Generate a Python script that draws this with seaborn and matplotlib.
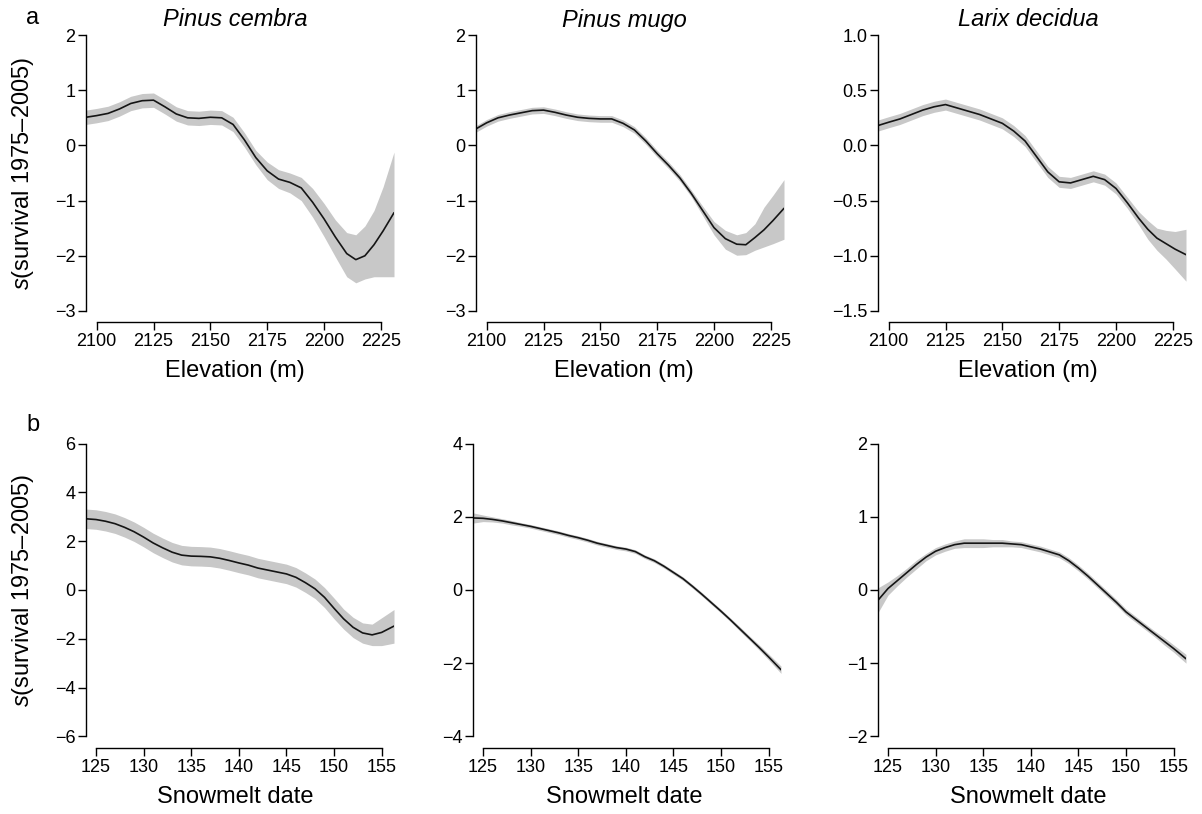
import matplotlib
matplotlib.use("Agg")
import matplotlib.pyplot as plt
import numpy as np
import pandas as pd
import seaborn as sns

# ---------------- data ----------------
species = ["Pinus cembra", "Pinus mugo", "Larix decidua"]

elevation = [2095.3, 2100, 2105, 2110, 2115, 2120, 2125, 2130, 2135, 2140, 2145, 2150,
             2155, 2160, 2165, 2170, 2175, 2180, 2185, 2190, 2195, 2200, 2205, 2210,
             2214, 2218, 2222, 2226, 2230.8]

cembra_elev = [0.51, 0.54, 0.58, 0.66, 0.76, 0.81, 0.82, 0.70, 0.57, 0.50, 0.49, 0.51,
               0.50, 0.38, 0.10, -0.22, -0.46, -0.61, -0.67, -0.77, -1.03, -1.33, -1.66, -1.96,
               -2.07, -2.00, -1.80, -1.55, -1.22]
cembra_elev_up = [0.64, 0.67, 0.71, 0.79, 0.89, 0.94, 0.95, 0.83, 0.70, 0.63, 0.62, 0.64,
                  0.63, 0.51, 0.23, -0.09, -0.30, -0.44, -0.50, -0.58, -0.78, -1.05, -1.35, -1.58,
                  -1.62, -1.46, -1.18, -0.75, -0.12]
cembra_elev_lo = [0.38, 0.41, 0.45, 0.53, 0.63, 0.68, 0.69, 0.57, 0.44, 0.37, 0.36, 0.38,
                  0.37, 0.25, -0.03, -0.35, -0.62, -0.78, -0.86, -1.00, -1.30, -1.65, -2.02, -2.38,
                  -2.49, -2.42, -2.38, -2.38, -2.38]

mugo_elev = [0.30, 0.41, 0.50, 0.55, 0.59, 0.63, 0.64, 0.60, 0.55, 0.51, 0.49, 0.48,
             0.48, 0.40, 0.28, 0.08, -0.15, -0.36, -0.59, -0.87, -1.18, -1.49, -1.69, -1.79,
             -1.80, -1.67, -1.53, -1.36, -1.14]
mugo_elev_up = [0.36, 0.47, 0.56, 0.61, 0.65, 0.69, 0.70, 0.66, 0.61, 0.57, 0.55, 0.54,
                0.54, 0.46, 0.34, 0.14, -0.09, -0.30, -0.53, -0.81, -1.10, -1.38, -1.54, -1.62,
                -1.58, -1.42, -1.12, -0.90, -0.62]
mugo_elev_lo = [0.24, 0.35, 0.44, 0.49, 0.53, 0.57, 0.58, 0.54, 0.49, 0.45, 0.43, 0.42,
                0.42, 0.34, 0.22, 0.02, -0.21, -0.42, -0.65, -0.93, -1.27, -1.62, -1.88, -1.99,
                -1.98, -1.90, -1.84, -1.78, -1.70]

larix_elev = [0.18, 0.21, 0.24, 0.28, 0.32, 0.35, 0.37, 0.34, 0.31, 0.28, 0.24, 0.20,
              0.13, 0.04, -0.10, -0.24, -0.33, -0.34, -0.31, -0.28, -0.31, -0.39, -0.52, -0.66,
              -0.76, -0.84, -0.89, -0.94, -0.99]
larix_elev_up = [0.23, 0.26, 0.29, 0.33, 0.37, 0.40, 0.42, 0.39, 0.36, 0.33, 0.29, 0.25,
                 0.18, 0.09, -0.05, -0.19, -0.28, -0.29, -0.26, -0.23, -0.26, -0.34, -0.47, -0.60,
                 -0.68, -0.75, -0.77, -0.78, -0.76]
larix_elev_lo = [0.13, 0.16, 0.19, 0.23, 0.27, 0.30, 0.32, 0.29, 0.26, 0.23, 0.19, 0.15,
                 0.08, -0.01, -0.15, -0.29, -0.38, -0.39, -0.36, -0.33, -0.36, -0.44, -0.57, -0.72,
                 -0.85, -0.95, -1.03, -1.12, -1.23]

snowmelt = [123.95, 125, 126, 127, 128, 129, 130, 131, 132, 133, 134, 135, 136, 137, 138,
            139, 140, 141, 142, 143, 144, 145, 146, 147, 148, 149, 150, 151, 152, 153,
            154, 155, 156.3]

cembra_snow = [2.92, 2.89, 2.82, 2.72, 2.57, 2.39, 2.17, 1.93, 1.73, 1.55, 1.43, 1.39, 1.38,
               1.36, 1.30, 1.21, 1.11, 1.02, 0.90, 0.82, 0.74, 0.66, 0.52, 0.30, 0.05, -0.30,
               -0.75, -1.18, -1.53, -1.76, -1.84, -1.74, -1.48]
cembra_snow_up = [3.32, 3.29, 3.22, 3.12, 2.97, 2.79, 2.57, 2.33, 2.13, 1.95, 1.83, 1.79, 1.78,
                  1.76, 1.70, 1.61, 1.51, 1.42, 1.30, 1.22, 1.14, 1.06, 0.92, 0.70, 0.45, 0.10,
                  -0.33, -0.78, -1.12, -1.35, -1.40, -1.14, -0.80]
cembra_snow_lo = [2.52, 2.49, 2.42, 2.32, 2.17, 1.99, 1.77, 1.53, 1.33, 1.15, 1.03, 0.99, 0.98,
                  0.96, 0.90, 0.81, 0.71, 0.62, 0.50, 0.42, 0.34, 0.26, 0.12, -0.10, -0.35, -0.72,
                  -1.18, -1.60, -1.95, -2.18, -2.28, -2.28, -2.18]

mugo_snow = [1.97, 1.96, 1.93, 1.89, 1.84, 1.79, 1.74, 1.68, 1.62, 1.56, 1.49, 1.43, 1.36,
             1.28, 1.22, 1.16, 1.12, 1.05, 0.91, 0.80, 0.65, 0.48, 0.31, 0.10, -0.12, -0.35,
             -0.58, -0.82, -1.07, -1.32, -1.57, -1.83, -2.18]
mugo_snow_ci = [0.14, 0.09, 0.07, 0.06, 0.06, 0.05, 0.05, 0.05, 0.05, 0.05, 0.05, 0.05, 0.05,
                0.05, 0.05, 0.05, 0.05, 0.05, 0.05, 0.05, 0.05, 0.05, 0.05, 0.05, 0.05, 0.05,
                0.05, 0.05, 0.06, 0.06, 0.07, 0.08, 0.10]

larix_snow = [-0.14, 0.02, 0.13, 0.24, 0.35, 0.45, 0.53, 0.58, 0.62, 0.64, 0.64, 0.64, 0.64,
              0.64, 0.63, 0.62, 0.59, 0.56, 0.52, 0.48, 0.40, 0.30, 0.19, 0.07, -0.05, -0.17,
              -0.30, -0.40, -0.50, -0.60, -0.70, -0.80, -0.94]
larix_snow_ci = [0.17, 0.09, 0.07, 0.06, 0.06, 0.05, 0.05, 0.05, 0.05, 0.06, 0.06, 0.06, 0.05,
                 0.05, 0.04, 0.04, 0.04, 0.04, 0.04, 0.04, 0.04, 0.04, 0.04, 0.04, 0.04, 0.04,
                 0.04, 0.04, 0.04, 0.04, 0.05, 0.05, 0.06]

elev_ticks = [2100, 2125, 2150, 2175, 2200, 2225]
snow_ticks = [125, 130, 135, 140, 145, 150, 155]
yticks_top = [[-3, -2, -1, 0, 1, 2], [-3, -2, -1, 0, 1, 2], [-1.5, -1.0, -0.5, 0.0, 0.5, 1.0]]
yticks_bot = [[-6, -4, -2, 0, 2, 4, 6], [-4, -2, 0, 2, 4], [-2, -1, 0, 1, 2]]

# ---------------- style ----------------
sns.set_theme(style="ticks")
plt.rcParams["font.family"] = ["Liberation Sans", "DejaVu Sans"]
plt.rcParams["mathtext.fontset"] = "custom"
plt.rcParams["mathtext.it"] = "Liberation Sans:italic"
plt.rcParams["mathtext.rm"] = "Liberation Sans"
plt.rcParams["axes.unicode_minus"] = True

W, H = 1202, 814
fig = plt.figure(figsize=(W / 100, H / 100), dpi=100)
fig.patch.set_facecolor("white")


def rect(left, top, right, bottom):
    return [left / W, 1 - bottom / H, (right - left) / W, (bottom - top) / H]


LINE = "#151515"
BAND = "#c8c8c8"
TICK_FS = 13
LAB_FS = 17

col_left = [86, 476, 878]
col_left_bot = [86, 473, 878]
col_center = [235, 624, 1028]
panel_w = 308

top_sets = [
    (cembra_elev, cembra_elev_lo, cembra_elev_up),
    (mugo_elev, mugo_elev_lo, mugo_elev_up),
    (larix_elev, larix_elev_lo, larix_elev_up),
]
bot_sets = [
    (cembra_snow, cembra_snow_lo, cembra_snow_up),
    (mugo_snow, [v - c for v, c in zip(mugo_snow, mugo_snow_ci)],
     [v + c for v, c in zip(mugo_snow, mugo_snow_ci)]),
    (larix_snow, [v - c for v, c in zip(larix_snow, larix_snow_ci)],
     [v + c for v, c in zip(larix_snow, larix_snow_ci)]),
]


def fmt(v, decimals):
    s = f"{v:.{decimals}f}"
    return s.replace("-", "\u2212")


def draw(ax, x, y, lo, hi, xticks, yticks, decimals, xlabel, ylabel, left_px, top_px, bot_px):
    df = pd.DataFrame({"x": x, "y": y, "lo": lo, "hi": hi})
    ax.fill_between(df["x"], df["lo"], df["hi"], color=BAND, lw=0, zorder=1)
    sns.lineplot(data=df, x="x", y="y", ax=ax, color=LINE, lw=1.2, estimator=None,
                 sort=False, zorder=2)
    span = yticks[-1] - yticks[0]
    ax.set_ylim(yticks[0] - 0.04 * span, yticks[-1] + 0.04 * span)
    ax.set_xlim(x[0], x[-1])
    ax.set_xticks(xticks)
    ax.set_xticklabels([str(t) for t in xticks])
    ax.set_yticks(yticks)
    ax.set_yticklabels([fmt(t, decimals) for t in yticks])
    for side in ("top", "right"):
        ax.spines[side].set_visible(False)
    ax.spines["left"].set_bounds(yticks[0], yticks[-1])
    ax.spines["bottom"].set_bounds(xticks[0], xticks[-1])
    for side in ("left", "bottom"):
        ax.spines[side].set_color("black")
        ax.spines[side].set_linewidth(1.0)
    ax.tick_params(axis="both", direction="out", length=5.5, width=1.0, colors="black",
                   labelsize=TICK_FS)
    ax.tick_params(axis="x", pad=2.5)
    ax.tick_params(axis="y", pad=2.0)
    ax.set_facecolor("white")
    height_px = bot_px - top_px
    ax.set_xlabel(xlabel, fontsize=LAB_FS, color="black")
    ax.xaxis.label.set_va("center")
    ax.xaxis.set_label_coords(0.5, -49 / height_px)
    if ylabel:
        ax.set_ylabel(ylabel, fontsize=LAB_FS, color="black")
        ax.yaxis.label.set_va("center")
        ax.yaxis.set_label_coords((23 - left_px) / panel_w, 0.5)
    else:
        ax.set_ylabel("")


ylab = r"$\it{s}$(survival 1975–2005)"

for i in range(3):
    ax = fig.add_axes(rect(col_left[i], 24, col_left[i] + panel_w, 322))
    y, lo, hi = top_sets[i]
    draw(ax, elevation, y, lo, hi, elev_ticks, yticks_top[i], 1 if i == 2 else 0,
         "Elevation (m)", ylab if i == 0 else None, col_left[i], 24, 322)
    ax.xaxis.set_label_coords((col_center[i] - col_left[i]) / panel_w, -49 / 298)
    fig.text(col_center[i] / W, 1 - 20 / H, species[i], fontsize=LAB_FS, style="italic",
             ha="center", va="center", color="black")

    axb = fig.add_axes(rect(col_left_bot[i], 432, col_left_bot[i] + panel_w, 748))
    y, lo, hi = bot_sets[i]
    draw(axb, snowmelt, y, lo, hi, snow_ticks, yticks_bot[i], 0,
         "Snowmelt date", ylab if i == 0 else None, col_left_bot[i], 432, 748)
    axb.xaxis.set_label_coords((col_center[i] - col_left_bot[i]) / panel_w, -49 / 316)

fig.text(33 / W, 1 - 18 / H, "a", fontsize=LAB_FS, ha="center", va="center", color="black")
fig.text(33 / W, 1 - 425 / H, "b", fontsize=LAB_FS, ha="center", va="center", color="black")

fig.savefig("out.png", dpi=100, facecolor="white")
